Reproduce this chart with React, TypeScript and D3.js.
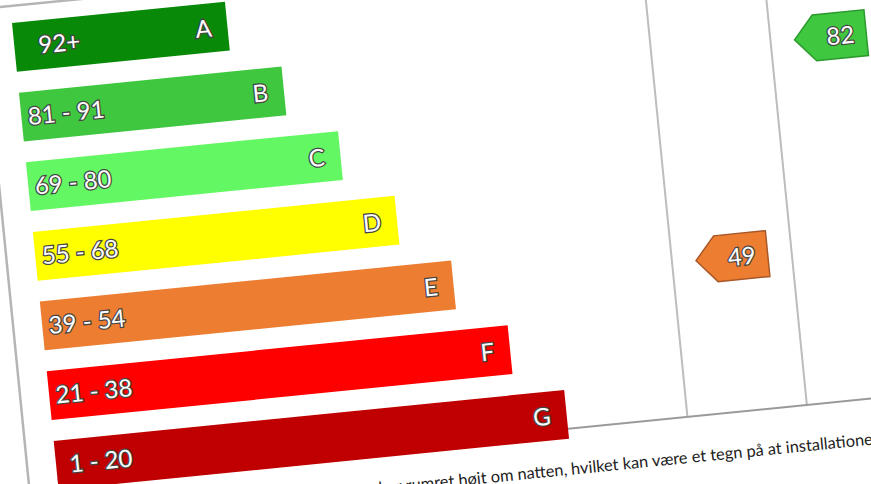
import React from 'react';
import * as d3 from 'd3';

// energy label rows
const categories = ['A', 'B', 'C', 'D', 'E', 'F', 'G'];
const ranges = ['92+', '81 - 91', '69 - 80', '55 - 68', '39 - 54', '21 - 38', '1 - 20'];
const lowerBounds = [92, 81, 69, 55, 39, 21, 1];
const colors = ['#088a08', '#3fc83f', '#63f863', '#ffff00', '#ed7d31', '#ff0000', '#c00000'];
const borders = ['#056005', '#2c9a2c', '#3fb53f', '#b0b000', '#a8582a', '#b00000', '#800000'];

// marker columns and their values
const columns = ['col1', 'col2'];
const markerValues = [49, 82];

const textPrefix = 'Dit forbrug er steget og har rumret højt om natten,';
const textRest = 'hvilket kan være et tegn på at installationen';

const W = 871;
const H = 484;
const font = 'Lato, "Open Sans", sans-serif';

const App: React.FC = () => {
  const y = d3.scaleBand<string>().domain(categories).range([0, 469]).paddingInner(0.3);
  const barLen = d3.scaleLinear().domain([0, categories.length - 1]).range([214, 513]);
  const colX = d3.scaleBand<string>().domain(columns).range([633, 873]);

  const rowOf = (v: number) => lowerBounds.findIndex((lb) => v >= lb);

  const arrowW = 72;
  const arrowH = 46;
  const tip = 20;
  const arrowPts = [
    [0, arrowH / 2],
    [tip, 0],
    [arrowW, 0],
    [arrowW, arrowH],
    [tip, arrowH],
  ];
  const arrowPath = d3.line()(arrowPts as [number, number][]) + 'Z';

  const labelStyle = {
    fontFamily: font,
    fontSize: 24,
    fill: '#fff',
    stroke: '#444',
    strokeWidth: 2.5,
    paintOrder: 'stroke',
  } as React.CSSProperties;

  return (
    <svg
      width={W}
      height={H}
      style={{ position: 'fixed', left: 0, top: 0, background: '#fff' }}
    >
      <g transform="translate(12,23) rotate(-5.7)">
        {/* page edge */}
        <rect x={-29} y={-17} width={1000} height={600} fill="#fff" stroke="#b5b5b5" strokeWidth={2.5} />
        {/* table lines */}
        {columns.map((c) => (
          <line key={c} x1={colX(c)} x2={colX(c)} y1={-60} y2={459} stroke="#bdbdbd" strokeWidth={2} />
        ))}
        <line x1={0} x2={1000} y1={459} y2={459} stroke="#9a9a9a" strokeWidth={2} />

        {categories.map((c, i) => (
          <g key={c} transform={`translate(0,${y(c)})`}>
            <rect width={barLen(i)} height={y.bandwidth()} fill={colors[i]} />
            <text x={45} y={y.bandwidth() / 2} dy="0.36em" textAnchor="middle" style={labelStyle}>
              {ranges[i]}
            </text>
            <text x={barLen(i) - 16} y={y.bandwidth() / 2} dy="0.36em" textAnchor="end" style={labelStyle}>
              {c}
            </text>
          </g>
        ))}

        {markerValues.map((v, j) => {
          const r = rowOf(v);
          const cx = (colX(columns[j]) as number) + (colX.bandwidth() - arrowW) / 2;
          const cy = (y(categories[r]) as number) + (y.bandwidth() - arrowH) / 2;
          return (
            <g key={j} transform={`translate(${cx},${cy})`}>
              <path d={arrowPath} fill={colors[r]} stroke={borders[r]} strokeWidth={1.5} />
              <text x={(tip + arrowW) / 2} y={arrowH / 2} dy="0.36em" textAnchor="middle" style={labelStyle}>
                {v}
              </text>
            </g>
          );
        })}

        <text x={508} y={505} textAnchor="end" fontFamily={font} fontSize={16.4} fill="#222">
          {textPrefix}
        </text>
        <text x={512} y={505} fontFamily={font} fontSize={16.4} fill="#222">
          {textRest}
        </text>
      </g>
    </svg>
  );
};

export default App;
